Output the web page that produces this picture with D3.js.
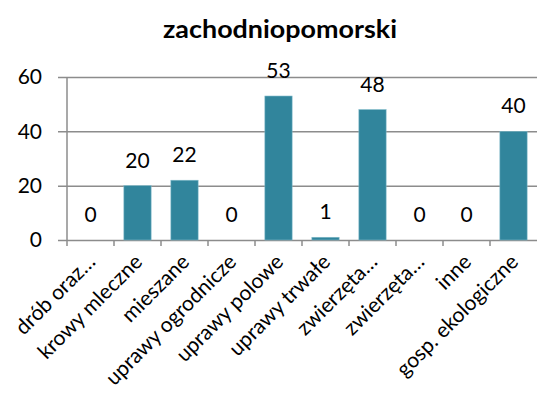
<!DOCTYPE html>
<html>
<head>
<meta charset="utf-8">
<script src="https://cdn.jsdelivr.net/npm/d3@7"></script>
<style>
  html, body { margin: 0; padding: 0; background: #fff; }
  svg { display: block; }
  text { font-family: Lato, "Open Sans", sans-serif; fill: #000; }
</style>
</head>
<body>
<svg id="chart" width="537" height="396"></svg>
<script>
// Farm types in the region and the count for each
const categories = [
  "drób oraz…", "krowy mleczne", "mieszane", "uprawy ogrodnicze", "uprawy polowe",
  "uprawy trwałe", "zwierzęta…", "zwierzęta…", "inne", "gosp. ekologiczne"
];
const values = [0, 20, 22, 0, 53, 1, 48, 0, 0, 40];
const yTicks = [0, 20, 40, 60];
const chartTitle = "zachodniopomorski";

const W = 537, H = 396;
const margin = { top: 77, right: 0, bottom: 156, left: 67 };
const svg = d3.select("#chart");

const x = d3.scaleBand()
  .domain(d3.range(categories.length))
  .range([margin.left, W - margin.right])
  .paddingInner(0.42)
  .paddingOuter(0.21);

const y = d3.scaleLinear()
  .domain([0, 60])
  .range([H - margin.bottom, margin.top]);

const gridColor = "#8c8c8c";

// Title
svg.append("text")
  .attr("x", 280)
  .attr("y", 38)
  .attr("text-anchor", "middle")
  .attr("textLength", 234)
  .attr("lengthAdjust", "spacingAndGlyphs")
  .style("font-size", "24px")
  .style("font-weight", "bold")
  .text(chartTitle);

// Horizontal gridlines with left tick marks
const yAxis = d3.axisLeft(y)
  .tickValues(yTicks)
  .tickSize(-(W - margin.left - margin.right))
  .tickSizeOuter(0)
  .tickPadding(25);

const gy = svg.append("g")
  .attr("transform", `translate(${margin.left},0)`)
  .call(yAxis);
gy.select(".domain").remove();
gy.selectAll(".tick line")
  .attr("x1", -9)
  .attr("stroke", gridColor)
  .attr("stroke-width", 1.5);
gy.selectAll(".tick text")
  .style("font-size", "21px")
  .style("font-family", "Lato, sans-serif")
  .attr("fill", "#000");

// Vertical axis line
svg.append("line")
  .attr("x1", margin.left).attr("x2", margin.left)
  .attr("y1", y(60)).attr("y2", y(0) + 6)
  .attr("stroke", gridColor)
  .attr("stroke-width", 1.5);

// Category boundary ticks below the baseline
const boundaries = d3.range(1, categories.length).map(i => x(i) - x.step() * x.paddingInner() / 2);
svg.append("g").selectAll("line")
  .data(boundaries)
  .join("line")
  .attr("x1", d => d).attr("x2", d => d)
  .attr("y1", y(0)).attr("y2", y(0) + 6)
  .attr("stroke", gridColor)
  .attr("stroke-width", 1.5);

// Bars
svg.append("g").selectAll("rect")
  .data(values)
  .join("rect")
  .attr("x", (d, i) => x(i))
  .attr("width", x.bandwidth())
  .attr("y", d => y(d))
  .attr("height", d => y(0) - y(d))
  .attr("fill", "#31859c")
  .attr("stroke", "#7fb9c9")
  .attr("stroke-width", 0.6);

// Value labels
svg.append("g").selectAll("text")
  .data(values)
  .join("text")
  .attr("x", (d, i) => x(i) + x.bandwidth() / 2)
  .attr("y", d => y(d) - 18)
  .attr("text-anchor", "middle")
  .style("font-size", "21px")
  .text(d => d);

// Rotated category labels
svg.append("g").selectAll("text")
  .data(categories)
  .join("text")
  .attr("transform", (d, i) => `translate(${x(i) + x.bandwidth() / 2 - 5},${y(0) + 12}) rotate(-45)`)
  .attr("text-anchor", "end")
  .attr("dy", "0.75em")
  .style("font-size", "21px")
  .text(d => d);
</script>
</body>
</html>
